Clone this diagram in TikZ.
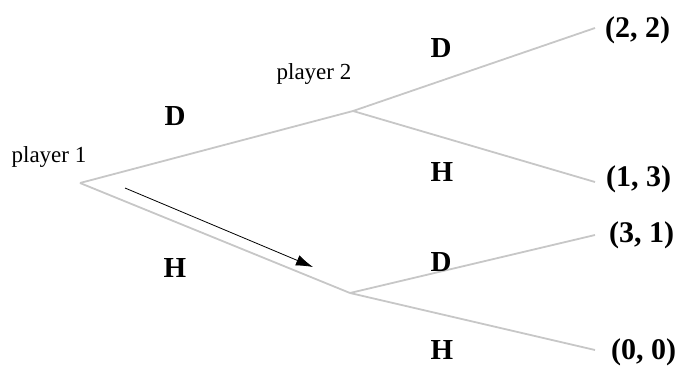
\documentclass[tikz,border=0pt]{standalone}
\usepackage{fontspec}
\setmainfont{Liberation Serif}
\usetikzlibrary{arrows.meta}
\begin{document}
\begin{tikzpicture}[x=1pt,y=-1pt,
  branch/.style={draw=black!22,line width=1.8pt},
  lbl/.style={font=\bfseries\fontsize{29}{31}\selectfont,inner sep=0pt},
  pay/.style={font=\bfseries\fontsize{30}{32}\selectfont,inner sep=0pt,anchor=west},
  pl/.style={font=\fontsize{23}{25}\selectfont,inner sep=0pt}]
\useasboundingbox (0,0) rectangle (681,365);
\coordinate (r) at (80,183);
\coordinate (u) at (353,111);
\coordinate (l) at (350,293);
\coordinate (e1) at (595,28);
\coordinate (e2) at (595,182);
\coordinate (e3) at (595,235);
\coordinate (e4) at (595,350);
\draw[branch] (r) -- (u);
\draw[branch] (r) -- (l);
\draw[branch] (u) -- (e1);
\draw[branch] (u) -- (e2);
\draw[branch] (l) -- (e3);
\draw[branch] (l) -- (e4);
\coordinate (a1) at (125,188);
\coordinate (a2) at (313,267);
\draw[line width=0.8pt,-{Latex[length=17pt,width=11pt]}] (a1) -- (a2);
\node[pl] (p1) at (49,157) {player 1};
\node[pl] (p2) at (314,74) {player 2};
\node[lbl] (d1) at (175,116) {D};
\node[lbl] (h1) at (175,268) {H};
\node[lbl] (d2) at (441,48) {D};
\node[lbl] (h2) at (442,172) {H};
\node[lbl] (d3) at (441,262) {D};
\node[lbl] (h3) at (442,350) {H};
\node[pay] (v1) at (605,30) {(2, 2)};
\node[pay] (v2) at (606,179) {(1, 3)};
\node[pay] (v3) at (609,235) {(3, 1)};
\node[pay] (v4) at (611,352) {(0, 0)};
\end{tikzpicture}
\end{document}
